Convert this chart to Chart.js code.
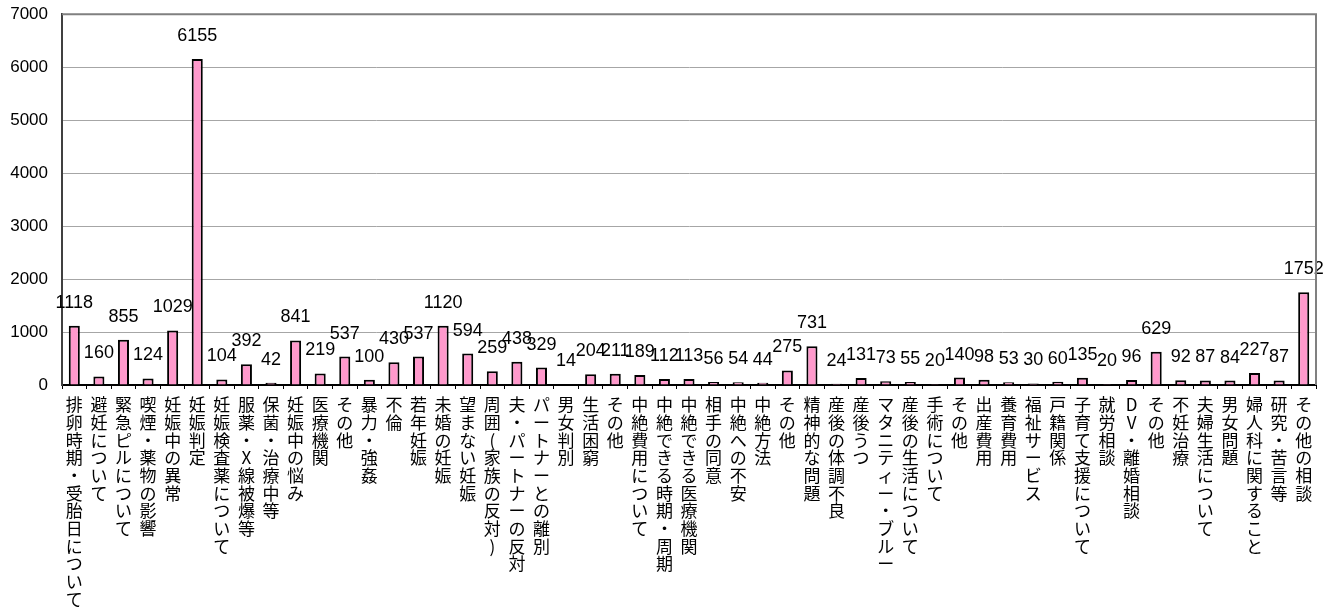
<!DOCTYPE html>
<html>
<head>
<meta charset="utf-8">
<script src="https://cdn.jsdelivr.net/npm/chart.js@4"></script>
<style>
  body { margin: 0; background: #fff; }
</style>
</head>
<body>
<canvas id="grafica" width="1332" height="608"></canvas>
<script>
const categorias = [
    "排卵時期・受胎日について", "避妊について", "緊急ピルについて", "喫煙・薬物の影響", "妊娠中の異常",
    "妊娠判定", "妊娠検査薬について", "服薬・X線被爆等", "保菌・治療中等", "妊娠中の悩み",
    "医療機関", "その他", "暴力・強姦", "不倫", "若年妊娠",
    "未婚の妊娠", "望まない妊娠", "周囲(家族の反対)", "夫・パートナーの反対", "パートナーとの離別",
    "男女判別", "生活困窮", "その他", "中絶費用について", "中絶できる時期・周期",
    "中絶できる医療機関", "相手の同意", "中絶への不安", "中絶方法", "その他",
    "精神的な問題", "産後の体調不良", "産後うつ", "マタニティー・ブルー", "産後の生活について",
    "手術について", "その他", "出産費用", "養育費用", "福祉サービス",
    "戸籍関係", "子育て支援について", "就労相談", "DV・離婚相談", "その他",
    "不妊治療", "夫婦生活について", "男女問題", "婦人科に関すること", "研究・苦言等",
    "その他の相談"
];

const valores = [
    1118, 160, 855, 124, 1029,
    6155, 104, 392, 42, 841,
    219, 537, 100, 430, 537,
    1120, 594, 259, 438, 329,
    14, 204, 211, 189, 112,
    113, 56, 54, 44, 275,
    731, 24, 131, 73, 55,
    20, 140, 98, 53, 30,
    60, 135, 20, 96, 629,
    92, 87, 84, 227, 87,
    1752
];

const ticksY = [0, 1000, 2000, 3000, 4000, 5000, 6000, 7000];

// etiquetas verticales: un caracter por linea
const etiquetas = categorias.map(t => Array.from(t));

// numeros encima de cada barra
const numerosBarras = {
    id: 'numerosBarras',
    afterDatasetsDraw(chart) {
        const ctx = chart.ctx;
        const meta = chart.getDatasetMeta(0);
        ctx.save();
        ctx.font = '18px "Liberation Sans", Arial, sans-serif';
        ctx.fillStyle = '#000';
        ctx.textAlign = 'center';
        ctx.textBaseline = 'bottom';
        meta.data.forEach((bar, i) => {
            ctx.fillText(String(valores[i]), bar.x, bar.y - 14);
        });
        ctx.restore();
    }
};

// marco del area de grafico
const marco = {
    id: 'marco',
    afterDraw(chart) {
        const a = chart.chartArea;
        const ctx = chart.ctx;
        ctx.save();
        ctx.strokeStyle = '#808080';
        ctx.lineWidth = 2;
        ctx.beginPath();
        ctx.moveTo(a.left, a.top);
        ctx.lineTo(a.right, a.top);
        ctx.lineTo(a.right, a.bottom);
        ctx.stroke();
        ctx.restore();
    }
};

const data = {
    labels: etiquetas,
    datasets: [
        {
            label: "相談件数",
            data: valores,
            backgroundColor: '#ff99cc',
            borderColor: '#000',
            borderWidth: 2,
            barPercentage: 0.45,
            categoryPercentage: 1.0,
        }
    ]
};

const config = {
    type: 'bar',
    data: data,
    options: {
        responsive: false,
        animation: false,
        layout: {padding: {left: 0, top: 0, right: 16, bottom: 0}},
        plugins: {
            legend: {display: false},
            tooltip: {enabled: false}
        },
        scales: {
            x: {
                offset: true,
                afterFit(scale) { scale.height = 223; },
                grid: {display: true, drawOnChartArea: false, color: '#000', tickLength: 4, offset: true},
                border: {color: '#000', width: 2},
                ticks: {
                    autoSkip: false,
                    maxRotation: 0,
                    minRotation: 0,
                    padding: 7,
                    color: '#000',
                    font: {family: '"Noto Sans CJK JP", sans-serif', size: 17, lineHeight: 1.04}
                }
            },
            y: {
                min: 0,
                max: 7000,
                afterBuildTicks(axis) {
                    axis.ticks = ticksY.map(v => ({value: v}));
                },
                afterFit(scale) { scale.width = 62; },
                grid: {color: '#a6a6a6', lineWidth: 1, tickLength: 10, tickColor: 'rgba(0,0,0,0)'},
                border: {color: '#404040', width: 2},
                ticks: {
                    padding: 4,
                    color: '#000',
                    callback: v => String(v),
                    font: {family: '"Liberation Sans", Arial, sans-serif', size: 17}
                }
            }
        }
    },
    plugins: [numerosBarras, marco]
};

const ctx = document.getElementById('grafica').getContext('2d');
const graficaConsultas = new Chart(ctx, config);
</script>
</body>
</html>
